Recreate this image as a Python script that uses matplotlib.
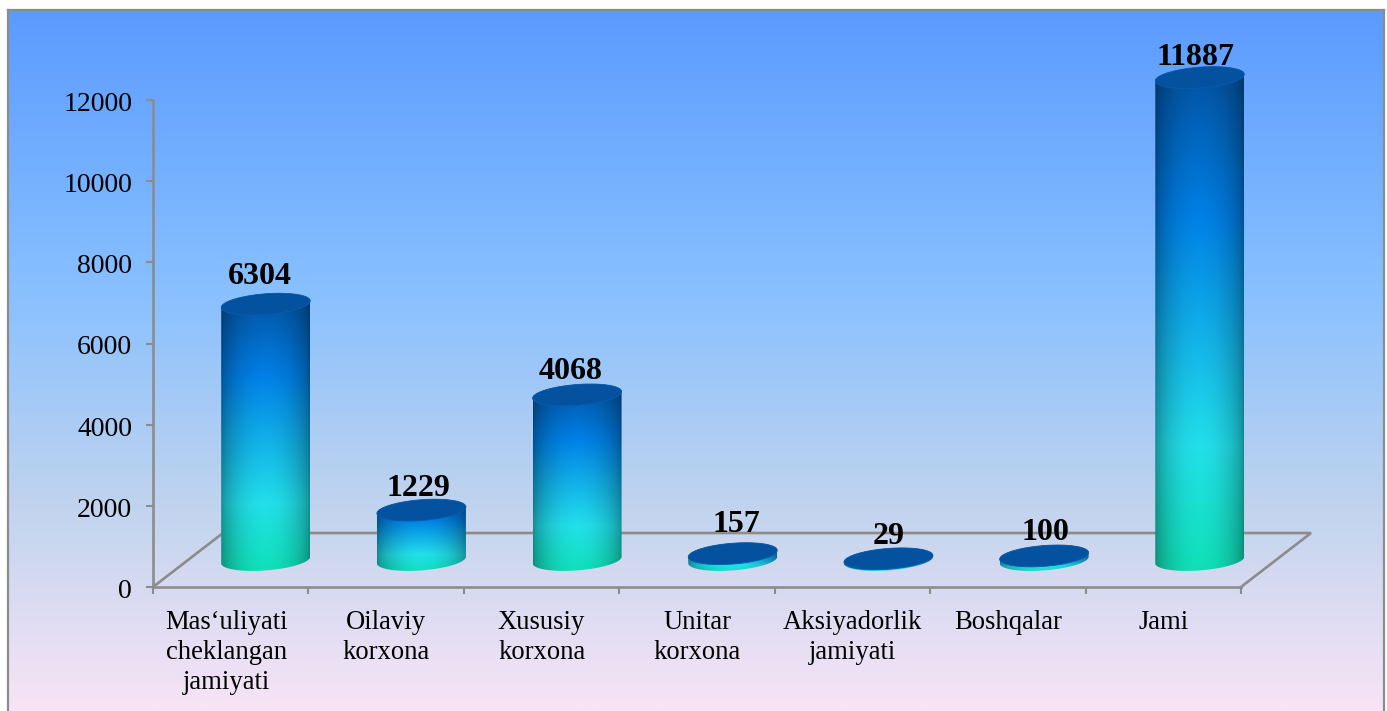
import matplotlib
matplotlib.use('Agg')
import matplotlib.pyplot as plt
import numpy as np
from matplotlib.colors import LinearSegmentedColormap
from matplotlib.path import Path
from matplotlib.patches import PathPatch
from matplotlib.ticker import MultipleLocator
from matplotlib.transforms import ScaledTranslation

plt.rcParams['font.family'] = ['Liberation Serif', 'DejaVu Serif']

categories = ['Mas‘uliyati\ncheklangan\njamiyati', 'Oilaviy\nkorxona', 'Xususiy\nkorxona',
              'Unitar\nkorxona', 'Aksiyadorlik\njamiyati', 'Boshqalar', 'Jami']
values = [6304, 1229, 4068, 157, 29, 100, 11887]
y_ticks = [0, 2000, 4000, 6000, 8000, 10000, 12000]

W, H = 1387, 711
GRAY = '#8c8c8c'

# pixel layout of the chart
AX_L, AX_R, AX_T, AX_B = 153, 1241, 100, 587
PX_X = (AX_R - AX_L) / 7
PX_Y = (AX_B - AX_T) / 12000

# floor depth in pixels
DEPTH_X, DEPTH_Y = 70, 54

# manual nudges of the value labels, in pixels
nudge_x = [-6, -3, -6, 4, 0, 1, -4]
nudge_y = [-28, -22, -23, -29, -22, -23, -20]

bg_cmap = LinearSegmentedColormap.from_list('bg', [(0, '#5b9bff'), (0.4, '#88c0ff'), (0.7, '#bfd3ee'),
                                                   (1, '#f8e4f6')])
bar_cmap = LinearSegmentedColormap.from_list('bar', [(0, '#03509e'), (0.3, '#0080e6'),
                                                     (0.75, '#22dfea'), (1, '#0fe0b5')])


def cylinder(ax, fig, x, value):
    '''
    Draws one shaded cylinder standing on the floor, centred between the ticks.
    '''
    # the cylinders spread a touch wider than the ticks
    xc = x + 0.5 + (DEPTH_X / 2 + 0.25 * x) / PX_X
    y0 = DEPTH_Y / 2 / PX_Y
    y1 = y0 + value
    a = 44.5 / PX_X
    b = 10.4 / PX_Y
    s = 3.3 / PX_Y

    t = np.linspace(0, 2 * np.pi, 121)
    front = np.linspace(np.pi, 2 * np.pi, 61)

    # side wall: lower arc of the base, then the upper rim
    xs = np.r_[xc + a * np.cos(front), xc + a * np.cos(t[:61])]
    ys = np.r_[y0 + b * np.sin(front) + s * np.cos(front), y1 + b * np.sin(t[:61]) + s * np.cos(t[:61])]
    wall = PathPatch(Path(np.column_stack([xs, ys])), fc='none', ec='none', transform=ax.transData)
    ax.add_patch(wall)

    u = np.linspace(0, 1, 90)
    v = np.linspace(0, 1, 200)
    shade = 0.62 + 0.38 * np.sin(np.pi * u) ** 0.6
    rgb = bar_cmap(v)[:, :3][:, None, :] * shade[None, :, None]
    top = y1 + b + s
    bottom = y0 - b - s
    im = ax.imshow(rgb, extent=[xc - a, xc + a, bottom, top], origin='upper', aspect='auto', zorder=3)
    im.set_clip_path(wall)
    im.set_clip_box(fig.bbox)

    # top face
    lid = PathPatch(Path(np.column_stack([xc + a * np.cos(t), y1 + b * np.sin(t) + s * np.cos(t)])),
                    fc='#04529f', ec='#0a5cab', lw=0.6, zorder=4, clip_on=False)
    ax.add_patch(lid)
    return xc, y1


fig = plt.figure(figsize=(W / 100, H / 100), dpi=100, facecolor='white')

# background panel, runs off the bottom of the picture
bg = fig.add_axes([8 / W, 0, (1384 - 8) / W, (H - 10) / H])
bg.imshow(np.linspace(0, 1, 256)[:, None], cmap=bg_cmap, aspect='auto', vmin=0, vmax=1)
bg.set_xticks([])
bg.set_yticks([])
bg.spines['bottom'].set_visible(False)
for side in ['left', 'top', 'right']:
    bg.spines[side].set_color(GRAY)
    bg.spines[side].set_linewidth(1.6)

ax = fig.add_axes([AX_L / W, 1 - AX_B / H, (AX_R - AX_L) / W, (AX_B - AX_T) / H])
ax.patch.set_visible(False)
ax.set_xlim(0, 7)
ax.set_ylim(0, 12000)
for side in ['top', 'right']:
    ax.spines[side].set_visible(False)
for side in ['left', 'bottom']:
    ax.spines[side].set_color(GRAY)
    ax.spines[side].set_linewidth(1.9)

ax.set_yticks(y_ticks)
ax.tick_params(axis='y', labelsize=20, length=5, width=1.5, color=GRAY, pad=10)
ax.xaxis.set_major_locator(MultipleLocator(1))
ax.set_xticklabels([])
ax.tick_params(axis='x', which='major', length=5, width=1.5, color=GRAY)
ax.set_xticks(np.arange(len(categories)) + 0.5, minor=True)
ax.set_xticklabels(categories, minor=True, fontsize=19.2, linespacing=1.26, va='top')
ax.tick_params(axis='x', which='minor', length=0, pad=16.5)

# the first label sits a little left of its slot
first = ax.get_xticklabels(minor=True)[0]
first.set_transform(first.get_transform() + ScaledTranslation(-4 / 100, 0, fig.dpi_scale_trans))

# y labels sit a pixel lower than the ticks
for lab in ax.get_yticklabels():
    lab.set_transform(lab.get_transform() + ScaledTranslation(0, -1.5 / 100, fig.dpi_scale_trans))

# floor
dx = DEPTH_X / PX_X
dy = DEPTH_Y / PX_Y
ax.plot([0, dx, 7 + dx, 7], [0, dy, dy, 0], color=GRAY, lw=1.9, clip_on=False, zorder=1,
        solid_joinstyle='miter')

for i, v in enumerate(values):
    xc, yt = cylinder(ax, fig, i, v)
    ax.annotate(str(v), (xc, yt), xytext=(nudge_x[i] * 0.72, -nudge_y[i] * 0.72), textcoords='offset points',
                ha='center', va='center', fontsize=23, fontweight='bold', color='black',
                annotation_clip=False, zorder=5)

ax.set_xlim(0, 7)
ax.set_ylim(0, 12000)
fig.savefig('out.png', dpi=100)
